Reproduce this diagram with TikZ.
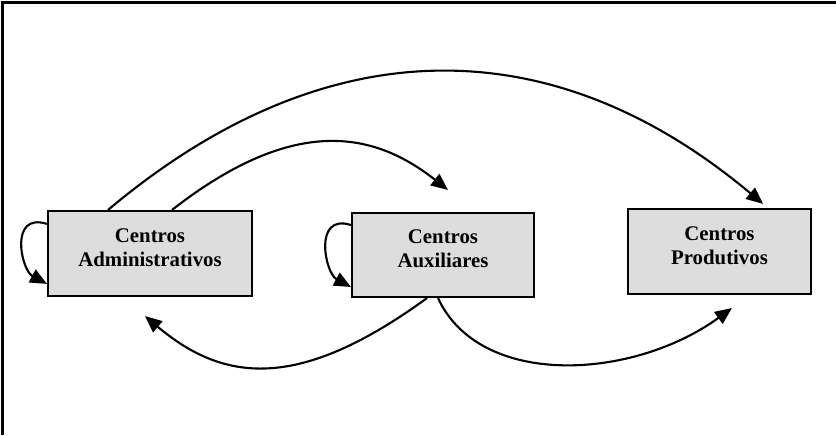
\documentclass[tikz,border=0pt]{standalone}
\usepackage{fontspec}
\setmainfont{Liberation Serif}
\usepackage{xcolor}
\usepackage{tikz}
\usetikzlibrary{
	arrows.meta,shapes
}
\definecolor{boxgray}{HTML}{DDDDDD}
\tikzset{
	centro/.style={draw, fill=boxgray, line width=1.5pt, align=center,
		font=\fontsize{14.8pt}{17pt}\selectfont\bfseries, text depth=0.3cm},
	fluxo/.style={line width=1.5pt, -{Triangle[length=0.42cm,width=0.36cm]}}
}

\begin{document}
\begin{tikzpicture}
		\useasboundingbox (0,0) rectangle (20.9,10.875);
		\draw[line width=1.6pt] (0.0625,0) -- (0.0625,10.8125) -- (20.9,10.8125);
		%
		\node[centro, minimum width=5.1cm, minimum height=2.125cm] (Adm) at (3.75,4.5375) {Centros\\Administrativos};
		\node[centro, minimum width=4.55cm, minimum height=2.1cm] (Aux) at (11.075,4.5) {Centros\\Auxiliares};
		\node[centro, minimum width=4.575cm, minimum height=2.125cm] (Prod) at (17.9875,4.5875) {Centros\\Produtivos};
		%
		\draw[fluxo] ([xshift=-1.05cm]Adm.north)
			.. controls +(5.45,4.58) and +(-5.27,4.42) .. ([xshift=1.09cm,yshift=0.1cm]Prod.north);
		\draw[fluxo] ([xshift=0.55cm]Adm.north)
			.. controls +(3.15,2.46) and +(-1.77,1.39) .. ([xshift=0.125cm,yshift=0.55cm]Aux.north);
		%
		\draw[fluxo] ([yshift=0.74cm]Adm.west)
			.. controls +(-0.95,0.3) and +(-0.65,0.35) .. ([yshift=-0.76cm]Adm.west);
		\draw[fluxo] ([yshift=0.75cm]Aux.west)
			.. controls +(-0.95,0.3) and +(-0.65,0.35) .. ([yshift=-0.8cm]Aux.west);
		%
		\draw[fluxo] ([xshift=-0.4cm]Aux.south)
			.. controls +(-3.24,-2.36) and +(1.95,-1.64) .. ([xshift=-0.125cm,yshift=-0.475cm]Adm.south);
		\draw[fluxo] ([xshift=-0.125cm]Aux.south)
			.. controls +(1.05,-2.27) and +(-2.47,-1.8) .. ([xshift=0.31cm,yshift=-0.325cm]Prod.south);
	\end{tikzpicture}
\end{document}
